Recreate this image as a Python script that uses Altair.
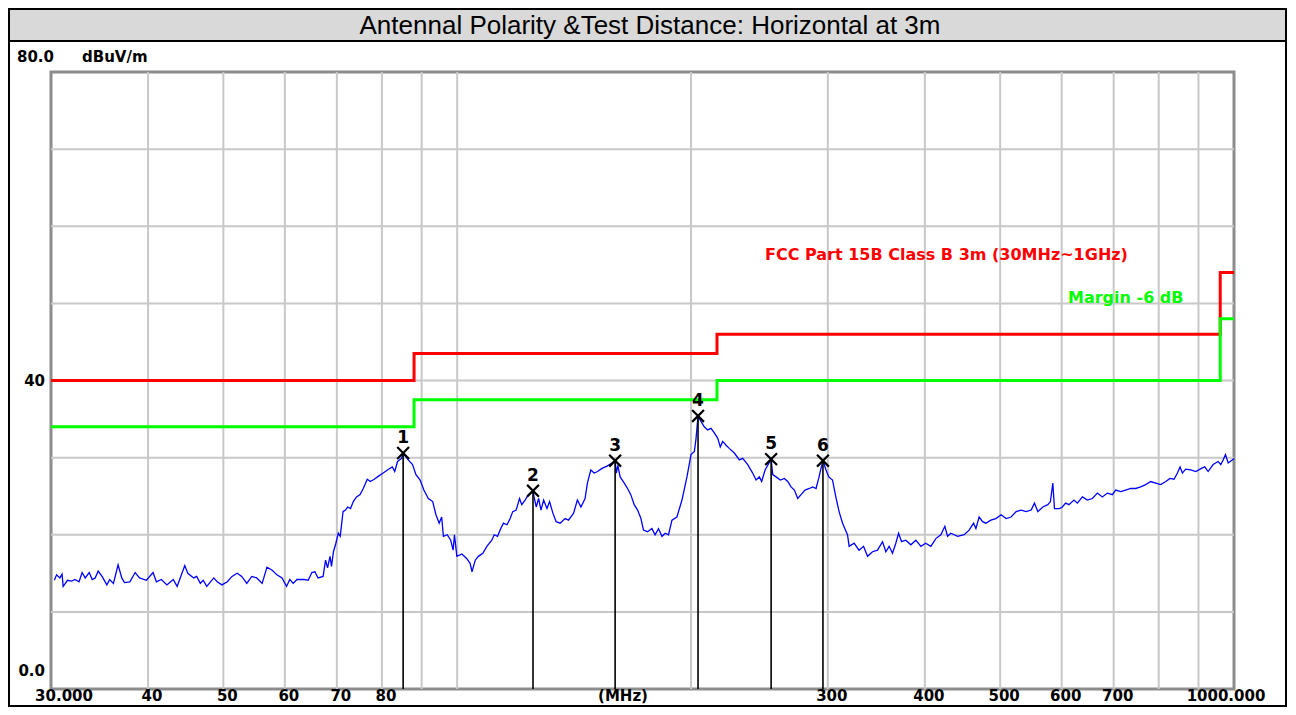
import altair as alt
import pandas as pd

# ---------------- data ----------------
trace_freq = [
    30.3, 30.5, 30.8, 31.0, 31.1, 31.3, 31.5, 31.9, 32.2, 32.6, 32.9, 33.2, 33.6, 33.9, 34.2, 34.5, 34.9,
    35.4, 35.7, 36.1, 36.6, 37.0, 37.3, 37.9, 38.5, 39.0, 39.8, 40.6, 41.0, 41.6, 42.3, 43.1, 43.6, 44.0,
    44.6, 45.0, 45.8, 46.2, 46.7, 47.1, 47.6, 48.6, 49.1, 49.8, 50.6, 51.3, 52.1, 52.8, 53.6, 54.4, 55.2,
    56.1, 56.9, 57.8, 58.6, 59.5, 60.3, 60.9, 61.5, 62.2, 63.4, 64.3, 65.0, 65.6, 66.2, 67.2, 67.7, 68.1,
    68.6, 68.9, 69.3, 69.8, 70.3,
    70.7, 71.3, 71.8, 72.3, 72.9, 73.5, 74.2, 75.0, 75.7, 76.6, 77.3, 78.2, 79.2, 80.3, 81.6, 82.5, 83.1,
    83.8, 84.8, 85.2, 86.5, 87.6, 88.5, 89.6, 90.6, 91.8, 93.0, 93.9, 94.8, 95.5, 96.0, 97.1, 98.1, 98.8,
    99.2, 99.9, 101.4, 102.9, 103.9, 104.5, 105.5, 106.5, 107.9, 109.2,
    110.8, 111.6, 112.7, 113.8, 114.7, 115.9, 117.0, 117.9, 119.1, 120.3, 121.1, 122.3, 123.5, 125.2,
    125.6, 126.4, 127.3, 128.2, 129.2, 130.5, 131.5, 132.8, 134.1, 135.7, 137.7, 139.1, 141.2, 142.8,
    144.3, 146.1, 147.1, 148.6, 150.1, 151.6, 153.6, 155.9, 158.2, 159.7, 160.3, 161.0, 162.1, 164.1,
    165.7, 167.3, 169.0, 170.7, 172.4, 173.7, 175.8, 178.1, 179.8, 181.6, 183.5, 185.3, 187.1,
    189.0, 191.8, 194.7, 197.6, 200.0, 202.0, 203.0, 204.2, 206.0, 208.0, 210.1, 212.2, 214.3, 216.5,
    218.1, 219.7, 221.9, 224.0, 227.4, 230.8, 233.1, 236.6, 240.1, 242.5, 244.9, 246.6, 249.1, 253.6,
    254.8, 257.3, 260.6, 263.7, 266.4, 269.0, 271.7, 274.4, 277.1, 280.4, 284.0, 286.9, 289.7, 292.0,
    294.0, 295.7, 298.4, 300.9, 304.2, 307.2, 310.2, 313.4, 318.0,
    319.6, 324.3, 329.1, 333.5, 337.5, 342.5, 347.6, 352.8, 356.3, 359.8, 363.4, 367.0, 370.0, 373.3,
    378.0, 383.7, 389.5, 395.3, 400.9, 407.2, 413.2, 419.4, 424.4, 427.8, 432.0, 436.3, 440.7, 449.4,
    456.1, 462.1, 465.3, 469.8, 474.6, 479.2, 486.4, 493.6, 501.5, 508.9, 516.5, 524.3, 532.1, 540.1,
    548.1, 553.5, 559.1, 567.4, 575.9, 580.3, 584.5, 587.3, 596.1, 601.2, 607.1, 613.1, 622.3, 628.6,
    638.0, 647.5, 657.1, 667.0, 676.9, 687.1, 697.3, 704.2, 714.7, 725.3, 736.2, 747.2, 758.3, 769.6,
    781.2, 792.8, 804.8, 816.8, 827.3, 837.1, 845.6, 852.2, 858.2, 866.6, 879.6, 892.8, 908.0, 917.0,
    926.1, 940.1, 954.1, 961.6, 968.4, 975.0, 982.9, 994.5, 1000.0,
]
trace_level = [
    14.1, 14.8, 14.4, 14.9, 13.3, 13.7, 14.1, 14.0, 14.2, 13.9, 15.1, 14.4, 15.1, 14.2, 14.4, 15.3, 14.6,
    13.5, 14.2, 13.7, 16.1, 14.4, 13.8, 13.9, 15.1, 14.4, 14.1, 15.1, 13.9, 14.2, 13.5, 14.2, 13.3, 14.4,
    16.0, 15.0, 14.4, 14.6, 13.7, 14.1, 13.3, 14.4, 13.9, 13.5, 13.9, 14.6, 15.0, 14.6, 13.7, 14.6, 14.4,
    13.7, 15.8, 15.4, 14.8, 14.4, 13.3, 14.2, 13.7, 14.2, 14.2, 14.1, 15.1, 15.2, 14.4, 14.6, 16.7, 15.7,
    17.2, 15.9, 17.8, 18.9, 20.2,
    19.8, 23.0, 23.2, 23.6, 23.4, 24.3, 24.9, 25.2, 26.0, 27.2, 26.9, 27.2, 27.6, 28.0, 28.5, 28.8, 28.2,
    29.5, 29.9, 30.6, 29.7, 29.1, 27.8, 27.1, 25.8, 24.7, 24.3, 22.6, 21.5, 22.3, 19.8, 20.0, 19.3, 18.0,
    20.0, 17.2, 17.5, 16.9, 16.3, 15.2, 16.7, 17.2, 17.6, 18.5,
    19.3, 20.0, 19.8, 20.8, 21.5, 21.3, 22.1, 23.0, 23.2, 24.7, 23.9, 24.5, 25.2, 25.7,
    24.9, 23.6, 24.7, 23.2, 24.5, 23.4, 24.3, 22.8, 21.7, 21.5, 22.1, 21.9, 22.8, 24.5,
    23.6, 24.7, 26.7, 28.4, 28.0, 28.2, 28.6, 28.9, 29.3, 29.6, 28.0, 29.0, 27.5, 26.7,
    26.0, 25.2, 23.9, 23.2, 22.1, 20.6, 20.4, 20.8, 20.0, 20.8, 19.8, 20.2, 20.0,
    21.9, 22.3, 24.5, 27.5, 30.4, 30.8, 32.5, 35.4, 34.7, 34.0, 33.6, 33.8, 33.2, 32.5,
    31.4, 32.1, 31.6, 31.2, 30.6, 29.7, 29.9, 29.1, 28.0, 27.1, 27.5, 26.9, 28.4, 29.8,
    27.8, 27.5, 27.1, 27.3, 26.9, 26.2, 25.8, 24.7, 25.2, 25.8, 26.0, 26.2, 26.0, 27.3,
    28.6, 29.6, 28.4, 27.5, 27.1, 24.9, 23.0, 21.5, 20.0,
    18.5, 18.9, 18.0, 18.5, 17.2, 17.8, 18.0, 19.1, 17.8, 18.5, 17.6, 18.9, 20.2, 19.1,
    19.3, 18.7, 19.3, 18.5, 18.9, 18.5, 19.5, 20.0, 21.1, 19.8, 20.2, 20.0, 19.8, 20.0,
    20.6, 21.5, 20.8, 22.3, 21.7, 21.5, 21.9, 22.1, 22.6, 22.1, 22.3, 23.0, 23.2, 23.0,
    23.2, 24.1, 23.0, 23.6, 23.9, 24.3, 26.7, 23.4, 23.4, 23.6, 24.1, 23.9, 24.5, 24.1,
    24.9, 24.5, 24.7, 25.4, 24.9, 25.4, 25.2, 25.8, 25.6, 25.8, 26.0, 26.0, 26.2, 26.5,
    26.9, 26.7, 26.5, 26.9, 27.3, 27.2, 28.0, 28.8, 28.0, 28.5, 28.4, 28.2, 28.6, 28.8,
    28.2, 29.1, 29.5, 29.1, 29.7, 30.4, 29.3, 29.7, 29.9,
]

limit_freq = [30, 88, 216, 960, 1000]
limit_level = [40, 43.5, 46, 54, 54]
margin_level = [34, 37.5, 40, 48, 48]

marker_no = ["1", "2", "3", "4", "5", "6"]
marker_freq = [85.2, 125.2, 159.7, 204.2, 253.6, 295.7]
marker_level = [30.6, 25.7, 29.6, 35.4, 29.8, 29.6]

grid_freq = [40, 50, 60, 70, 80, 90, 100, 200, 300, 400, 500, 600, 700, 800, 900]
grid_level = [10, 20, 30, 40, 50, 60, 70]

x_mid_vals = [40, 50, 60, 70, 80, 300, 400, 500, 600, 700]
x_mid_text = ["40", "50", "60", "70", "80", "300", "400", "500", "600", "700"]
x_first_val, x_first_text = 30, "30.000"
x_last_val, x_last_text = 1000, "1000.000"

title_text = "Antennal Polarity &Test Distance: Horizontal at 3m"
unit_text = "dBuV/m"
freq_unit_text = "(MHz)"
limit_name = "FCC Part 15B Class B 3m (30MHz~1GHz)"
margin_name = "Margin -6 dB"

# ---------------- chart ----------------
W, H = 1183, 617
FONT = "DejaVu Sans"
xs = alt.Scale(type="log", domain=[30, 1000], nice=False)
ys = alt.Scale(domain=[0, 80], nice=False, zero=False)

one = pd.DataFrame({"k": [0]})
trace_df = pd.DataFrame({"f": trace_freq, "l": trace_level, "i": list(range(len(trace_freq)))})
limit_df = pd.DataFrame({"f": limit_freq, "l": limit_level})
margin_df = pd.DataFrame({"f": limit_freq, "l": margin_level})
marker_df = pd.DataFrame({"f": marker_freq, "l": marker_level, "n": marker_no})
gridx_df = pd.DataFrame({"f": grid_freq})
gridy_df = pd.DataFrame({"l": grid_level})
xmid_df = pd.DataFrame({"f": x_mid_vals, "t": x_mid_text})
xfirst_df = pd.DataFrame({"f": [x_first_val], "t": [x_first_text]})
xlast_df = pd.DataFrame({"f": [x_last_val], "t": [x_last_text]})

X = lambda: alt.X("f:Q", scale=xs, axis=None)
Y = lambda: alt.Y("l:Q", scale=ys, axis=None)

outer = alt.Chart(one).mark_rect(fillOpacity=0, stroke="black", strokeWidth=2).encode(
    x=alt.value(-42), x2=alt.value(1235), y=alt.value(-63), y2=alt.value(634))
title_bar = alt.Chart(one).mark_rect(fill="#d9d9d9", stroke="black", strokeWidth=2).encode(
    x=alt.value(-42), x2=alt.value(1235), y=alt.value(-63), y2=alt.value(-31))
title = alt.Chart(one).mark_text(font="Liberation Sans", fontSize=26, color="black",
                                 align="center", baseline="middle").encode(
    x=alt.value(599), y=alt.value(-46), text=alt.value(title_text))

gridx = alt.Chart(gridx_df).mark_rule(color="#c8c8c8", strokeWidth=2).encode(
    x=X(), y=alt.value(0), y2=alt.value(H))
gridy = alt.Chart(gridy_df).mark_rule(color="#c8c8c8", strokeWidth=2).encode(
    y=Y(), x=alt.value(0), x2=alt.value(W))

limit = alt.Chart(limit_df).mark_line(color="#ff0000", strokeWidth=3, interpolate="step-after").encode(
    x=X(), y=Y())
margin = alt.Chart(margin_df).mark_line(color="#00ff00", strokeWidth=3, interpolate="step-after").encode(
    x=X(), y=Y())

trace = alt.Chart(trace_df).mark_line(color="#0000ff", strokeWidth=1.3).encode(
    x=X(), y=Y(), order="i:Q")

mrules = alt.Chart(marker_df).mark_rule(color="black", strokeWidth=1.6).encode(
    x=X(), y=Y(), y2=alt.datum(0))
mx = alt.Chart(marker_df).mark_point(shape="M-1,-1L1,1M-1,1L1,-1", size=140, filled=False,
                                    stroke="black", strokeWidth=2.2, opacity=1).encode(x=X(), y=Y())
mnum = alt.Chart(marker_df).mark_text(font=FONT, fontSize=17, fontWeight="bold", color="black",
                                      dy=-15, baseline="middle").encode(x=X(), y=Y(), text="n:N")

limit_lbl = alt.Chart(one).mark_text(font=FONT, fontSize=16, fontWeight="bold", color="#ff0000",
                                     align="left", baseline="middle").encode(
    x=alt.value(714), y=alt.value(183), text=alt.value(limit_name))
margin_lbl = alt.Chart(one).mark_text(font=FONT, fontSize=16, fontWeight="bold", color="#00ff00",
                                      align="left", baseline="middle").encode(
    x=alt.value(1017), y=alt.value(226), text=alt.value(margin_name))

lab = dict(font=FONT, fontSize=15, fontWeight="bold", color="black", baseline="middle")
y80 = alt.Chart(pd.DataFrame({"l": [80], "t": ["80.0"]})).mark_text(align="left", dy=-15, **lab).encode(
    x=alt.value(-34), y=Y(), text="t:N")
yunit = alt.Chart(pd.DataFrame({"l": [80], "t": [unit_text]})).mark_text(align="left", dy=-15, **lab).encode(
    x=alt.value(31), y=Y(), text="t:N")
y40 = alt.Chart(pd.DataFrame({"l": [40], "t": ["40"]})).mark_text(align="right", **lab).encode(
    x=alt.value(-6), y=Y(), text="t:N")
y0 = alt.Chart(pd.DataFrame({"l": [0], "t": ["0.0"]})).mark_text(align="right", dy=-18, **lab).encode(
    x=alt.value(-6), y=Y(), text="t:N")

XL_Y = 624
xmid = alt.Chart(xmid_df).mark_text(align="center", dx=4, **lab).encode(
    x=X(), y=alt.value(XL_Y), text="t:N")
xfirst = alt.Chart(xfirst_df).mark_text(align="center", dx=13, **lab).encode(
    x=X(), y=alt.value(XL_Y), text="t:N")
xlast = alt.Chart(xlast_df).mark_text(align="center", dx=-8, **lab).encode(
    x=X(), y=alt.value(XL_Y), text="t:N")
xunit = alt.Chart(one).mark_text(align="center", **lab).encode(
    x=alt.value(572), y=alt.value(XL_Y), text=alt.value(freq_unit_text))

chart = alt.layer(
    outer, title_bar, title, gridx, gridy, limit, margin, trace, mrules, mx, mnum,
    limit_lbl, margin_lbl, y80, yunit, y40, y0, xmid, xfirst, xlast, xunit,
).properties(
    width=W, height=H,
    autosize=alt.AutoSizeParams(type="none"),
    padding={"left": 43, "top": 64, "right": 54, "bottom": 18},
    background="white",
).configure_view(stroke="#8c8c8c", strokeWidth=3)

chart.save("out.html", embed_options={"renderer": "svg", "actions": False})
